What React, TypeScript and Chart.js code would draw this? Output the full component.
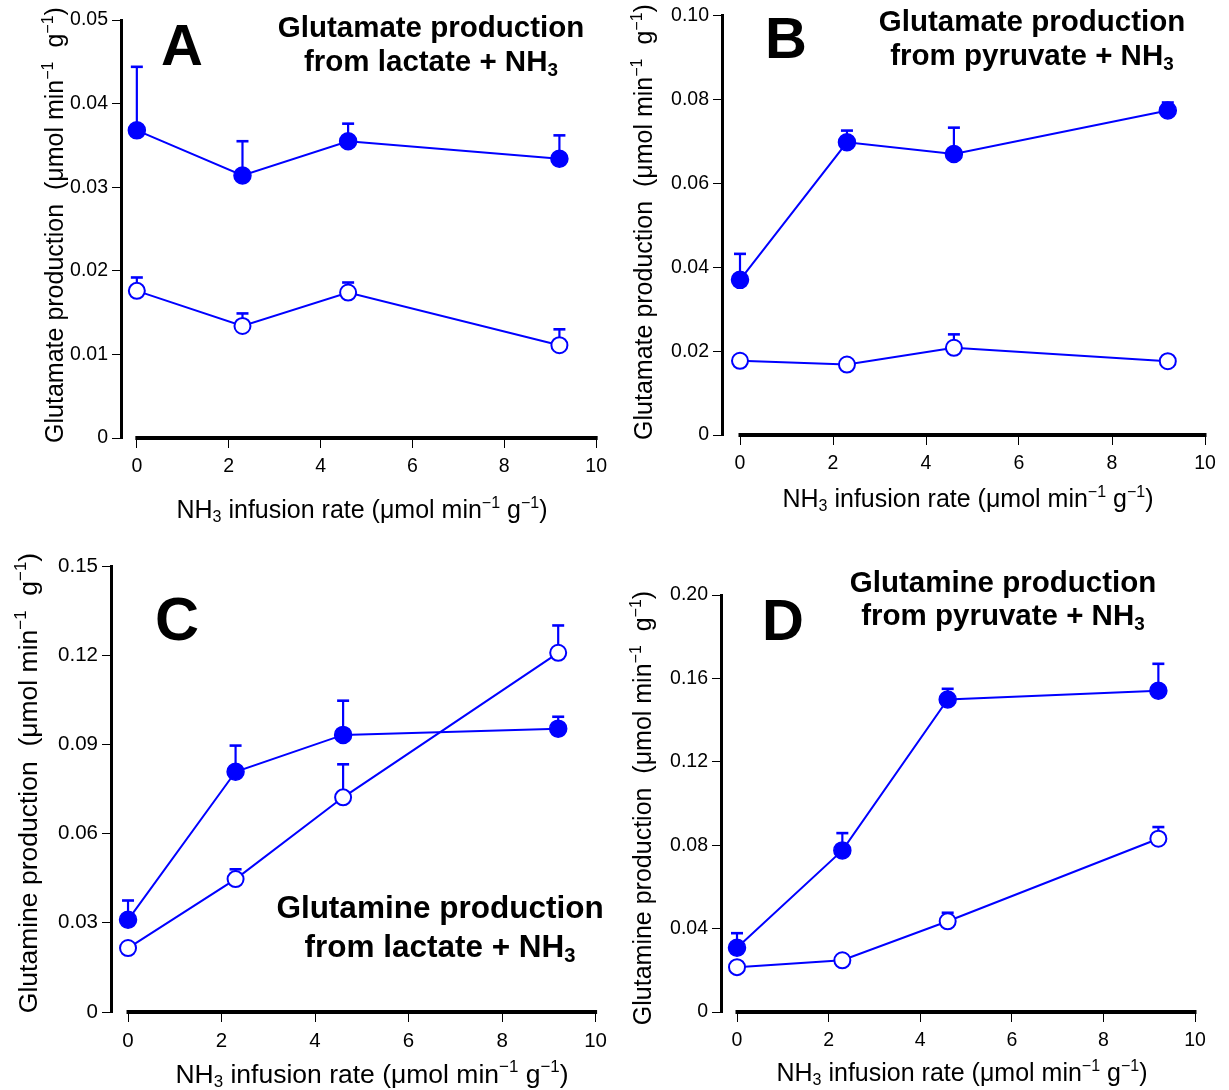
import React, { useEffect, useRef } from "react";
import { Chart, registerables } from "chart.js";

Chart.register(...registerables);

const BLUE = "#0000ff";
const FONT = "'Liberation Sans', Arial, Helvetica, sans-serif";

// NH3 infusion rates (µmol min-1 g-1) shared by every panel
const infusionRates = [0, 2.3, 4.6, 9.2];
const xTickValues = [0, 2, 4, 6, 8, 10];

// A: glutamate from lactate + NH3
const aYTicks = [0, 0.01, 0.02, 0.03, 0.04, 0.05];
const aYLabels = ["0", "0.01", "0.02", "0.03", "0.04", "0.05"];
const aFilled = [0.0368, 0.0314, 0.0355, 0.0334];
const aFilledSem = [0.0076, 0.0041, 0.0021, 0.0028];
const aOpen = [0.0176, 0.0134, 0.0174, 0.0111];
const aOpenSem = [0.0016, 0.0015, 0.0012, 0.0019];

// B: glutamate from pyruvate + NH3
const bYTicks = [0, 0.02, 0.04, 0.06, 0.08, 0.1];
const bYLabels = ["0", "0.02", "0.04", "0.06", "0.08", "0.10"];
const bFilled = [0.037, 0.0698, 0.067, 0.0774];
const bFilledSem = [0.0062, 0.0028, 0.0063, 0.0019];
const bOpen = [0.0177, 0.0168, 0.0208, 0.0176];
const bOpenSem = [0, 0, 0.0032, 0];

// C: glutamine from lactate + NH3
const cYTicks = [0, 0.03, 0.06, 0.09, 0.12, 0.15];
const cYLabels = ["0", "0.03", "0.06", "0.09", "0.12", "0.15"];
const cFilled = [0.031, 0.0808, 0.0932, 0.0953];
const cFilledSem = [0.0065, 0.0088, 0.0115, 0.004];
const cOpen = [0.0215, 0.0447, 0.0722, 0.1208];
const cOpenSem = [0, 0.0033, 0.0111, 0.0092];

// D: glutamine from pyruvate + NH3
const dYTicks = [0, 0.04, 0.08, 0.12, 0.16, 0.2];
const dYLabels = ["0", "0.04", "0.08", "0.12", "0.16", "0.20"];
const dFilled = [0.0308, 0.0775, 0.1499, 0.1541];
const dFilledSem = [0.007, 0.0083, 0.0051, 0.0129];
const dOpen = [0.0215, 0.0248, 0.0435, 0.0831];
const dOpenSem = [0, 0, 0.0041, 0.0056];

type Seg = [string, number]; // 0 normal, 1 superscript, -1 subscript

const xTitle: Seg[] = [
  ["NH", 0],
  ["3", -1],
  [" infusion rate (\u03bcmol min", 0],
  ["\u22121", 1],
  [" g", 0],
  ["\u22121", 1],
  [")", 0],
];

function yTitle(word: string): Seg[] {
  return [
    [word + " production  (\u03bcmol min", 0],
    ["\u22121", 1],
    ["  g", 0],
    ["\u22121", 1],
    [")", 0],
  ];
}

function source(name: string): Seg[] {
  return [
    ["from " + name + " + NH", 0],
    ["3", -1],
  ];
}

function segFont(size: number, k: number, weight: string) {
  const s = k === 0 ? size : size * 0.64;
  return `${weight} ${s}px ${FONT}`;
}

function drawRich(
  ctx: CanvasRenderingContext2D,
  segs: Seg[],
  x: number,
  y: number,
  size: number,
  weight: string
) {
  let total = 0;
  for (const [t, k] of segs) {
    ctx.font = segFont(size, k, weight);
    total += ctx.measureText(t).width;
  }
  let cx = x - total / 2;
  ctx.textAlign = "left";
  ctx.textBaseline = "alphabetic";
  for (const [t, k] of segs) {
    ctx.font = segFont(size, k, weight);
    const dy = k === 1 ? -size * 0.42 : k === -1 ? size * 0.16 : 0;
    ctx.fillText(t, cx, y + dy);
    cx += ctx.measureText(t).width;
  }
}

interface PanelSpec {
  ox: number;
  oy: number;
  w: number;
  h: number;
  area: { left: number; top: number; right: number; bottom: number };
  x0: number;
  yTicks: number[];
  yLabels: string[];
  filled: number[];
  filledSem: number[];
  open: number[];
  openSem: number[];
  tickSize: number;
  axisSize: number;
  titleSize: number;
  letterSize: number;
  letter: string;
  letterPos: [number, number];
  title: [Seg[], Seg[]];
  titlePos: [number, number, number];
  xTitlePos: [number, number];
  yTitleText: Seg[];
  yTitlePos: [number, number];
}

const panels: PanelSpec[] = [
  {
    ox: 0, oy: 0, w: 614, h: 540,
    area: { left: 121, top: 20, right: 601, bottom: 438 },
    x0: 137,
    yTicks: aYTicks, yLabels: aYLabels,
    filled: aFilled, filledSem: aFilledSem, open: aOpen, openSem: aOpenSem,
    tickSize: 19.5, axisSize: 25, titleSize: 29.5, letterSize: 58,
    letter: "A", letterPos: [161, 65],
    title: [[["Glutamate production", 0]], source("lactate")],
    titlePos: [431, 37, 71],
    xTitlePos: [362, 518],
    yTitleText: yTitle("Glutamate"), yTitlePos: [63, 225],
  },
  {
    ox: 614, oy: 0, w: 615, h: 540,
    area: { left: 722, top: 14, right: 1205, bottom: 435 },
    x0: 740,
    yTicks: bYTicks, yLabels: bYLabels,
    filled: bFilled, filledSem: bFilledSem, open: bOpen, openSem: bOpenSem,
    tickSize: 19.5, axisSize: 25, titleSize: 29.5, letterSize: 58,
    letter: "B", letterPos: [765, 58],
    title: [[["Glutamate production", 0]], source("pyruvate")],
    titlePos: [1032, 31, 65],
    xTitlePos: [968, 507],
    yTitleText: yTitle("Glutamate"), yTitlePos: [652, 222],
  },
  {
    ox: 0, oy: 540, w: 614, h: 550,
    area: { left: 111, top: 566, right: 623, bottom: 1012 },
    x0: 129,
    yTicks: cYTicks, yLabels: cYLabels,
    filled: cFilled, filledSem: cFilledSem, open: cOpen, openSem: cOpenSem,
    tickSize: 20.5, axisSize: 26.5, titleSize: 31.5, letterSize: 61,
    letter: "C", letterPos: [155, 640],
    title: [[["Glutamine production", 0]], source("lactate")],
    titlePos: [440, 918, 957],
    xTitlePos: [372, 1083],
    yTitleText: yTitle("Glutamine"), yTitlePos: [37, 783],
  },
  {
    ox: 614, oy: 540, w: 615, h: 550,
    area: { left: 721, top: 595, right: 1195, bottom: 1012 },
    x0: 737,
    yTicks: dYTicks, yLabels: dYLabels,
    filled: dFilled, filledSem: dFilledSem, open: dOpen, openSem: dOpenSem,
    tickSize: 19.5, axisSize: 25, titleSize: 29.5, letterSize: 58,
    letter: "D", letterPos: [762, 640],
    title: [[["Glutamine production", 0]], source("pyruvate")],
    titlePos: [1003, 592, 625],
    xTitlePos: [962, 1081],
    yTitleText: yTitle("Glutamine"), yTitlePos: [651, 808],
  },
];

function buildChart(canvas: HTMLCanvasElement, p: PanelSpec) {
  const { area, ox, oy, w, h } = p;
  const pxPerUnit = (area.right - p.x0) / 10;
  const xMin = -(p.x0 - area.left) / pxPerUnit;
  const yMax = p.yTicks[p.yTicks.length - 1];
  const sems = [p.filledSem, p.openSem];

  const decor = {
    id: "panelDecor",
    beforeDatasetsDraw(chart: any) {
      const ctx: CanvasRenderingContext2D = chart.ctx;
      const xs = chart.scales.x;
      const ys = chart.scales.y;
      ctx.save();
      ctx.strokeStyle = BLUE;
      chart.data.datasets.forEach((ds: any, di: number) => {
        ds.data.forEach((pt: { x: number; y: number }, i: number) => {
          const e = sems[di][i];
          if (!e) return;
          const px = xs.getPixelForValue(pt.x);
          const py = ys.getPixelForValue(pt.y);
          const top = ys.getPixelForValue(pt.y + e);
          ctx.lineWidth = 2.2;
          ctx.beginPath();
          ctx.moveTo(px, py);
          ctx.lineTo(px, top);
          ctx.stroke();
          ctx.lineWidth = 2.6;
          ctx.beginPath();
          ctx.moveTo(px - 6, top);
          ctx.lineTo(px + 6, top);
          ctx.stroke();
        });
      });
      ctx.restore();
    },
    afterDraw(chart: any) {
      const ctx: CanvasRenderingContext2D = chart.ctx;
      const xs = chart.scales.x;
      ctx.save();
      // offset x axis line, from 0 to 10
      ctx.strokeStyle = "#000";
      ctx.lineWidth = 4;
      ctx.beginPath();
      const yb = chart.chartArea.bottom;
      ctx.moveTo(xs.getPixelForValue(0) - 1.5, yb);
      ctx.lineTo(xs.getPixelForValue(10) + 1.5, yb);
      ctx.stroke();

      ctx.fillStyle = "#000";
      // panel letter
      ctx.font = `bold ${p.letterSize}px ${FONT}`;
      ctx.textAlign = "left";
      ctx.textBaseline = "alphabetic";
      ctx.fillText(p.letter, p.letterPos[0] - ox, p.letterPos[1] - oy);
      // panel heading
      drawRich(ctx, p.title[0], p.titlePos[0] - ox, p.titlePos[1] - oy, p.titleSize, "bold");
      drawRich(ctx, p.title[1], p.titlePos[0] - ox, p.titlePos[2] - oy, p.titleSize, "bold");
      // x axis title
      drawRich(ctx, xTitle, p.xTitlePos[0] - ox, p.xTitlePos[1] - oy, p.axisSize, "normal");
      // y axis title, rotated
      ctx.translate(p.yTitlePos[0] - ox, p.yTitlePos[1] - oy);
      ctx.rotate(-Math.PI / 2);
      drawRich(ctx, p.yTitleText, 0, 0, p.axisSize, "normal");
      ctx.restore();
    },
  };

  const tickFont = { family: FONT, size: p.tickSize };

  return new Chart(canvas, {
    type: "line",
    data: {
      datasets: [
        {
          data: infusionRates.map((x, i) => ({ x, y: p.filled[i] })),
          borderColor: BLUE,
          borderWidth: 2,
          pointRadius: 8.5,
          pointBorderWidth: 1.5,
          pointBackgroundColor: BLUE,
          pointBorderColor: BLUE,
          clip: false,
        },
        {
          data: infusionRates.map((x, i) => ({ x, y: p.open[i] })),
          borderColor: BLUE,
          borderWidth: 2,
          pointRadius: 8,
          pointBorderWidth: 2,
          pointBackgroundColor: "#ffffff",
          pointBorderColor: BLUE,
          clip: false,
        },
      ],
    },
    options: {
      responsive: false,
      animation: false,
      events: [],
      layout: {
        padding: { left: 0, top: area.top - oy, right: ox + w - area.right, bottom: 0 },
      },
      plugins: { legend: { display: false }, tooltip: { enabled: false } },
      scales: {
        x: {
          type: "linear",
          min: xMin,
          max: 10,
          afterBuildTicks: (s: any) => {
            s.ticks = xTickValues.map((v) => ({ value: v }));
          },
          afterFit: (s: any) => {
            s.height = oy + h - area.bottom;
          },
          grid: {
            display: true,
            drawOnChartArea: false,
            drawTicks: true,
            tickLength: 10,
            color: "#000",
            lineWidth: 1,
          },
          border: { display: false },
          ticks: {
            font: tickFont,
            color: "#000",
            padding: 7,
            maxRotation: 0,
            autoSkip: false,
            callback: (v: any) => String(v),
          },
        },
        y: {
          type: "linear",
          min: 0,
          max: yMax,
          afterBuildTicks: (s: any) => {
            s.ticks = p.yTicks.map((v) => ({ value: v }));
          },
          afterFit: (s: any) => {
            s.width = area.left - ox;
          },
          grid: {
            display: true,
            drawOnChartArea: false,
            drawTicks: true,
            tickLength: 9,
            color: "#000",
            lineWidth: 1,
          },
          border: { display: true, color: "#000", width: 3 },
          ticks: {
            font: tickFont,
            color: "#000",
            padding: 4,
            autoSkip: false,
            callback: (_v: any, i: number) => p.yLabels[i],
          },
        },
      },
    },
    plugins: [decor],
  } as any);
}

function Panel({ spec }: { spec: PanelSpec }) {
  const ref = useRef<HTMLCanvasElement>(null);
  useEffect(() => {
    const chart = buildChart(ref.current as HTMLCanvasElement, spec);
    return () => chart.destroy();
  }, [spec]);
  return (
    <canvas
      ref={ref}
      width={spec.w}
      height={spec.h}
      style={{ position: "absolute", left: spec.ox, top: spec.oy, width: spec.w, height: spec.h }}
    />
  );
}

export default function App() {
  return (
    <div
      style={{
        position: "absolute",
        left: 0,
        top: 0,
        width: 1229,
        height: 1090,
        background: "#ffffff",
        overflow: "hidden",
      }}
    >
      {panels.map((p) => (
        <Panel key={p.letter} spec={p} />
      ))}
    </div>
  );
}
